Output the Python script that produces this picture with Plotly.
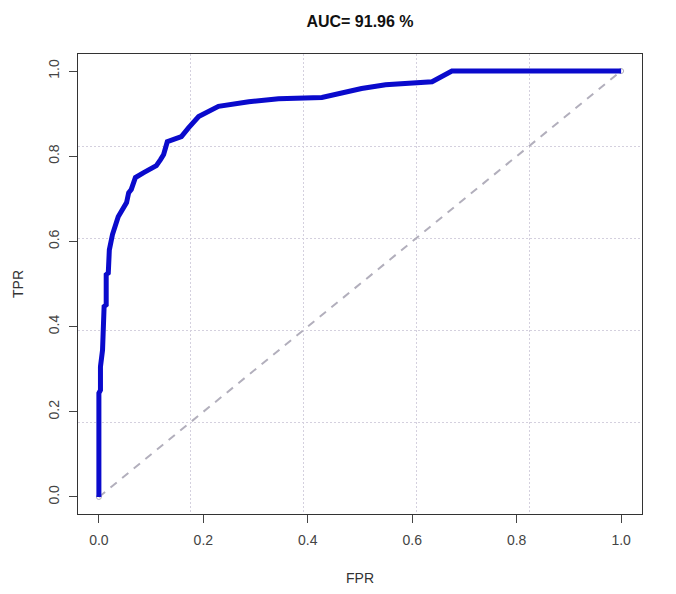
import plotly.graph_objects as go

# ROC curve data
fpr = [0.0, 0.0, 0.003, 0.003, 0.007, 0.009, 0.010, 0.014, 0.014, 0.018, 0.020,
       0.026, 0.032, 0.037, 0.053, 0.057, 0.062, 0.070, 0.085, 0.110, 0.118,
       0.124, 0.131, 0.158, 0.172, 0.191, 0.229, 0.287, 0.344, 0.427, 0.503,
       0.549, 0.638, 0.676, 1.0]
tpr = [0.0, 0.244, 0.251, 0.306, 0.345, 0.385, 0.447, 0.451, 0.522, 0.526, 0.580,
       0.616, 0.644, 0.658, 0.691, 0.714, 0.722, 0.750, 0.761, 0.778, 0.792,
       0.804, 0.834, 0.846, 0.867, 0.893, 0.917, 0.928, 0.935, 0.938, 0.959,
       0.968, 0.975, 1.0, 1.0]
diag_x = [0.0, 1.0]
diag_y = [0.0, 1.0]

tick_vals = [0.0, 0.2, 0.4, 0.6, 0.8, 1.0]
tick_text = ["0.0", "0.2", "0.4", "0.6", "0.8", "1.0"]
grid_vals = [0.176, 0.392, 0.608, 0.824]
axis_range = [-0.04, 1.04]
title_text = "AUC= 91.96 %"

FONT = "Liberation Sans, Arial, sans-serif"

# page body has an 8px margin; size the figure so the page fits 676x594
W, H = 660, 578
L, T = 70, 46
PW, PH = 564, 460

fig = go.Figure()
fig.add_trace(go.Scatter(
    x=diag_x, y=diag_y, mode="lines+markers",
    line=dict(color="#b2afbc", width=2, dash="8px,7px"),
    marker=dict(symbol="circle-open", size=5, color="#b2afbc"),
    hoverinfo="skip", showlegend=False))
fig.add_trace(go.Scatter(
    x=fpr, y=tpr, mode="lines",
    line=dict(color="#0a0acc", width=5),
    showlegend=False))

axis_common = dict(
    range=axis_range, tickmode="array", tickvals=tick_vals, ticktext=tick_text,
    showgrid=False, zeroline=False, showline=True, linecolor="#333333",
    linewidth=1, mirror=True, ticks="outside", ticklen=8, tickcolor="#444444",
    automargin=False,
    tickfont=dict(family=FONT, size=14, color="#444444"),
    minor=dict(tickmode="array", tickvals=grid_vals, showgrid=True,
               gridcolor="#d4d0de", griddash="2px,2px", gridwidth=1, ticks=""),
)
fig.update_xaxes(**axis_common, ticklabelstandoff=5)
fig.update_yaxes(**axis_common, tickangle=-90, ticklabelstandoff=4)

fig.update_layout(
    width=W, height=H,
    margin=dict(l=L, r=W - L - PW, t=T, b=H - T - PH, autoexpand=False),
    plot_bgcolor="white", paper_bgcolor="white",
    font=dict(family=FONT),
    title=dict(text="<b>" + title_text + "</b>", x=0.5, xanchor="center",
               xref="paper", y=1 - 13 / H, yanchor="middle",
               font=dict(family=FONT, size=16, color="#111111")),
    annotations=[
        dict(text="FPR", xref="paper", yref="paper", x=0.5, y=(514 - 578) / PH,
             xanchor="center", yanchor="middle", showarrow=False,
             font=dict(family=FONT, size=14, color="#333333")),
        dict(text="TPR", xref="paper", yref="paper", x=(18 - 78) / PW, y=0.5,
             xanchor="center", yanchor="middle", showarrow=False, textangle=-90,
             font=dict(family=FONT, size=14, color="#333333")),
    ],
)

fig.write_html("out.html")
